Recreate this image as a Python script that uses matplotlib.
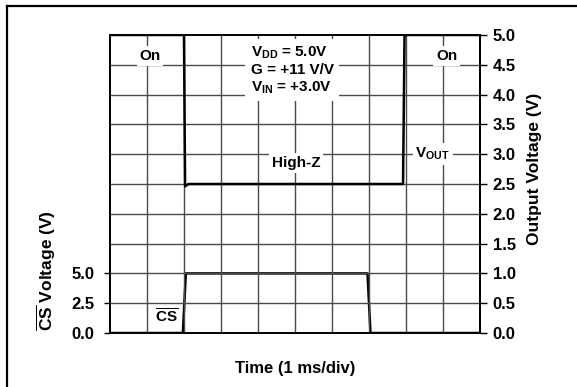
import matplotlib
matplotlib.use("Agg")
import matplotlib.pyplot as plt
from matplotlib.lines import Line2D

plt.rcParams['font.family'] = ['Liberation Sans', 'DejaVu Sans']
plt.rcParams['font.weight'] = 'bold'
plt.rcParams['mathtext.fontset'] = 'custom'
plt.rcParams['mathtext.rm'] = 'Liberation Sans:bold'
plt.rcParams['mathtext.bf'] = 'Liberation Sans:bold'
plt.rcParams['mathtext.default'] = 'bf'

# time in divisions (1 ms/div)
t_out = [0, 2.0, 2.03, 2.12, 7.92, 7.96, 10]
v_out = [5.0, 5.0, 2.46, 2.5, 2.5, 5.0, 5.0]

t_cs = [0, 1.97, 2.05, 6.96, 7.04, 10]
v_cs = [0.0, 0.0, 5.0, 5.0, 0.0, 0.0]

cs_ticks = [0.0, 2.5, 5.0]
out_ticks = [0.0, 0.5, 1.0, 1.5, 2.0, 2.5, 3.0, 3.5, 4.0, 4.5, 5.0]

fig = plt.figure(figsize=(5.77, 3.87), dpi=100)
ax = fig.add_axes([0.1906, 0.1395, 0.6413, 0.7701])
ax2 = ax.twinx()

ax.set_xlim(0, 10)
ax.set_ylim(0, 25)
ax2.set_ylim(0, 5)

# grid on the right-hand axis
for x in range(1, 10):
    ax2.axvline(x, color='#4a4a4a', lw=1.0, zorder=1)
for y in out_ticks[1:-1]:
    ax2.axhline(y, color='#4a4a4a', lw=1.0, zorder=1)

ax.plot(t_cs, v_cs, color='black', lw=1.8, zorder=5)
ax2.plot(t_out, v_out, color='black', lw=1.8, zorder=5)

ax.set_xticks([])
ax.set_yticks(cs_ticks)
ax.set_yticklabels(['%.1f' % v for v in cs_ticks], fontsize=12, fontweight='bold')
ax.tick_params(axis='y', length=4, width=1, pad=7)
ax2.set_yticks(out_ticks)
ax2.set_yticklabels(['%.1f' % v for v in out_ticks], fontsize=12, fontweight='bold')
ax2.tick_params(axis='y', length=5, width=1, pad=4)
for a in (ax, ax2):
    for s in a.spines.values():
        s.set_linewidth(1.3)

box = dict(facecolor='white', edgecolor='none', pad=2)
ax2.text(1.08, 4.65, 'On', fontsize=11, fontweight='bold', ha='center', va='center', bbox=box, zorder=4)
ax2.text(9.1, 4.65, 'On', fontsize=11, fontweight='bold', ha='center', va='center', bbox=box, zorder=4)
ax2.text(5.03, 2.85, 'High-Z', fontsize=11, fontweight='bold', ha='center', va='center', bbox=box, zorder=4)
ax2.text(8.72, 3.0, r'$V_{OUT}$', fontsize=11, ha='center', va='center', bbox=box, zorder=4)
ax2.text(1.54, 0.27, r'$\overline{CS}$', fontsize=11, ha='center', va='center', bbox=box, zorder=4)
ax2.text(3.8, 4.41, '$V_{DD}$ = 5.0V\nG = +11 V/V\n$V_{IN}$ = +3.0V', fontsize=11,
         fontweight='bold', ha='left', va='center', linespacing=1.2,
         bbox=dict(facecolor='white', edgecolor='none', pad=4), zorder=4)

fig.text(0.511, 0.047, 'Time (1 ms/div)', fontsize=12, fontweight='bold', ha='center', va='center')
fig.text(0.081, 0.30, r'$\overline{CS}$ Voltage (V)', fontsize=12.5, rotation=90, ha='center', va='center')
fig.text(0.927, 0.563, 'Output Voltage (V)', fontsize=12.5, fontweight='bold', rotation=90, ha='center', va='center')

# border lines along the top and left edge
fig.add_artist(Line2D([0.012, 1.0], [0.985, 0.985], transform=fig.transFigure, color='black', lw=1.6))
fig.add_artist(Line2D([0.012, 0.012], [0.0, 0.985], transform=fig.transFigure, color='black', lw=1.6))

fig.savefig('out.png', dpi=100)
